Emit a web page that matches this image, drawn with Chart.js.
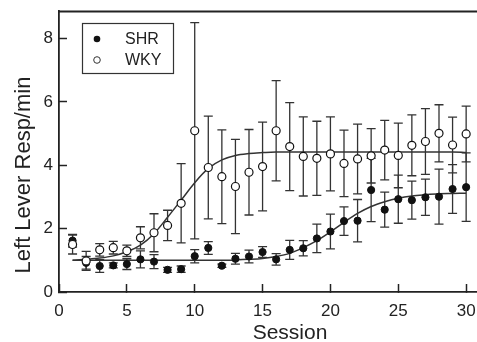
<!DOCTYPE html>
<html>
<head>
<meta charset="utf-8">
<script src="https://cdn.jsdelivr.net/npm/chart.js@4"></script>
<style>
  html, body { margin: 0; padding: 0; background: #fff; overflow: hidden; }
  canvas { display: block; }
</style>
</head>
<body>
<canvas id="sessionChart" width="477" height="342"></canvas>
<script>
const sessions = [1, 2, 3, 4, 5, 6, 7, 8, 9, 10, 11, 12, 13, 14, 15,
                  16, 17, 18, 19, 20, 21, 22, 23, 24, 25, 26, 27, 28, 29, 30];

const shr    = [1.62, 0.92, 0.82, 0.84, 0.88, 1.03, 0.96, 0.70, 0.72, 1.13, 1.39, 0.83, 1.05, 1.12, 1.26,
                1.03, 1.33, 1.38, 1.69, 1.91, 2.24, 2.25, 3.22, 2.60, 2.93, 2.90, 2.99, 3.01, 3.25, 3.31];
const shrErr = [0.20, 0.20, 0.20, 0.08, 0.17, 0.27, 0.22, 0.08, 0.10, 0.21, 0.20, 0.05, 0.17, 0.20, 0.17,
                0.18, 0.30, 0.24, 0.45, 0.55, 0.45, 0.67, 1.00, 0.55, 0.76, 0.60, 0.57, 0.87, 0.77, 1.08];

const wky    = [1.50, 0.98, 1.33, 1.40, 1.30, 1.71, 1.87, 2.10, 2.80, 5.09, 3.93, 3.64, 3.33, 3.78, 3.96,
                5.09, 4.59, 4.28, 4.22, 4.36, 4.06, 4.20, 4.30, 4.48, 4.31, 4.63, 4.75, 5.01, 4.64, 4.99];
const wkyErr = [0.30, 0.30, 0.20, 0.20, 0.18, 0.35, 0.60, 0.48, 1.25, 3.41, 1.62, 1.48, 1.49, 1.35, 1.40,
                1.58, 1.39, 1.25, 1.17, 1.17, 1.05, 1.10, 0.86, 0.94, 1.02, 0.96, 1.04, 0.90, 0.88, 0.88];

// fitted curves at each session
const shrFit = [1.00, 1.00, 1.00, 1.00, 1.00, 1.00, 1.00, 1.00, 1.00, 1.00, 1.00, 1.00, 1.01, 1.03, 1.06,
                1.12, 1.22, 1.40, 1.62, 1.90, 2.20, 2.48, 2.70, 2.85, 2.96, 3.03, 3.07, 3.10, 3.11, 3.12];
const wkyFit = [1.00, 1.03, 1.07, 1.14, 1.27, 1.48, 1.84, 2.36, 2.90, 3.45, 3.90, 4.17, 4.31, 4.37, 4.40,
                4.42, 4.42, 4.42, 4.42, 4.42, 4.42, 4.42, 4.42, 4.42, 4.42, 4.42, 4.42, 4.42, 4.42, 4.40];

const xTicks = [0, 5, 10, 15, 20, 25, 30];
const yTicks = [0, 2, 4, 6, 8];
const groupNames = ['SHR', 'WKY'];

const FONT = "'Liberation Sans', Arial, sans-serif";
const INK = '#222';

const pts = (ys) => sessions.map((s, i) => ({ x: s, y: ys[i] }));

const errorBars = {
    id: 'errorBars',
    beforeDatasetsDraw(chart) {
        const { ctx, scales: { x, y } } = chart;
        ctx.save();
        ctx.strokeStyle = '#333';
        ctx.lineWidth = 1.3;
        [[shr, shrErr], [wky, wkyErr]].forEach(([vals, errs]) => {
            sessions.forEach((s, i) => {
                const px = x.getPixelForValue(s);
                const top = y.getPixelForValue(vals[i] + errs[i]);
                const bot = y.getPixelForValue(vals[i] - errs[i]);
                ctx.beginPath();
                ctx.moveTo(px, top); ctx.lineTo(px, bot);
                ctx.moveTo(px - 4.5, top); ctx.lineTo(px + 4.5, top);
                ctx.moveTo(px - 4.5, bot); ctx.lineTo(px + 4.5, bot);
                ctx.stroke();
            });
        });
        ctx.restore();
    },
};

const frameAndText = {
    id: 'frameAndText',
    afterDraw(chart) {
        const { ctx, chartArea: a } = chart;
        ctx.save();
        // top frame line
        ctx.strokeStyle = INK;
        ctx.lineWidth = 1.8;
        ctx.beginPath();
        ctx.moveTo(a.left, a.top + 0.5);
        ctx.lineTo(a.right, a.top + 0.5);
        ctx.stroke();

        // legend box
        ctx.lineWidth = 1.2;
        ctx.strokeStyle = '#333';
        ctx.strokeRect(82.5, 23.5, 91, 50);
        ctx.font = `16px ${FONT}`;
        ctx.textBaseline = 'middle';
        ctx.fillStyle = INK;
        groupNames.forEach((name, i) => {
            const cy = 39 + i * 21;
            ctx.beginPath();
            ctx.arc(97, cy, 3.3, 0, Math.PI * 2);
            if (i === 0) { ctx.fillStyle = '#111'; ctx.fill(); }
            else { ctx.fillStyle = '#fff'; ctx.fill(); ctx.lineWidth = 1; ctx.stroke(); }
            ctx.fillStyle = INK;
            ctx.fillText(name, 125, cy + 1);
        });

        // axis titles
        ctx.textAlign = 'center';
        ctx.textBaseline = 'alphabetic';
        ctx.font = `21px ${FONT}`;
        ctx.fillText('Session', 290, 339);
        ctx.translate(30, 175);
        ctx.rotate(-Math.PI / 2);
        ctx.font = `22px ${FONT}`;
        ctx.fillText('Left Lever Resp/min', 0, 0);
        ctx.restore();
    },
};

new Chart(document.getElementById('sessionChart'), {
    type: 'scatter',
    data: {
        datasets: [
            {
                label: 'WKY',
                data: pts(wky),
                pointRadius: 4,
                pointBackgroundColor: '#fff',
                pointBorderColor: '#111',
                pointBorderWidth: 1.2,
                order: 0,
            },
            {
                label: 'SHR',
                data: pts(shr),
                pointRadius: 3.6,
                pointBackgroundColor: '#111',
                pointBorderColor: '#111',
                pointBorderWidth: 1,
                order: 1,
            },
            {
                label: 'WKY fit',
                data: pts(wkyFit),
                showLine: true,
                pointRadius: 0,
                borderColor: '#333',
                borderWidth: 1.5,
                cubicInterpolationMode: 'monotone',
                order: 2,
            },
            {
                label: 'SHR fit',
                data: pts(shrFit),
                showLine: true,
                pointRadius: 0,
                borderColor: '#333',
                borderWidth: 1.5,
                cubicInterpolationMode: 'monotone',
                order: 3,
            },
        ],
    },
    options: {
        responsive: false,
        animation: false,
        devicePixelRatio: 1,
        layout: { autoPadding: false, padding: { left: 0, top: 11, right: 0, bottom: 0 } },
        plugins: {
            legend: { display: false },
            tooltip: { enabled: false },
        },
        scales: {
            x: {
                type: 'linear',
                min: 0,
                max: 30.8,
                afterFit: s => {
                    s.height = 50;
                    s.paddingLeft = 0; s.paddingRight = 0;
                    s.paddingTop = 0; s.paddingBottom = 0;
                },
                afterBuildTicks: s => { s.ticks = xTicks.map(v => ({ value: v })); },
                ticks: { color: INK, font: { family: FONT, size: 17 }, padding: 17, includeBounds: false },
                grid: { drawOnChartArea: false, tickLength: -8, tickColor: INK, tickWidth: 1.5 },
                border: { color: INK, width: 1.8 },
            },
            y: {
                type: 'linear',
                min: 0,
                max: 8.87,
                afterFit: s => {
                    s.width = 59;
                    s.paddingLeft = 0; s.paddingRight = 0;
                    s.paddingTop = 0; s.paddingBottom = 0;
                },
                afterBuildTicks: s => { s.ticks = yTicks.map(v => ({ value: v })); },
                ticks: { color: INK, font: { family: FONT, size: 17 }, padding: 14, includeBounds: false },
                grid: { drawOnChartArea: false, tickLength: -8, tickColor: INK, tickWidth: 1.5 },
                border: { color: INK, width: 1.8 },
            },
        },
    },
    plugins: [errorBars, frameAndText],
});
</script>
</body>
</html>
